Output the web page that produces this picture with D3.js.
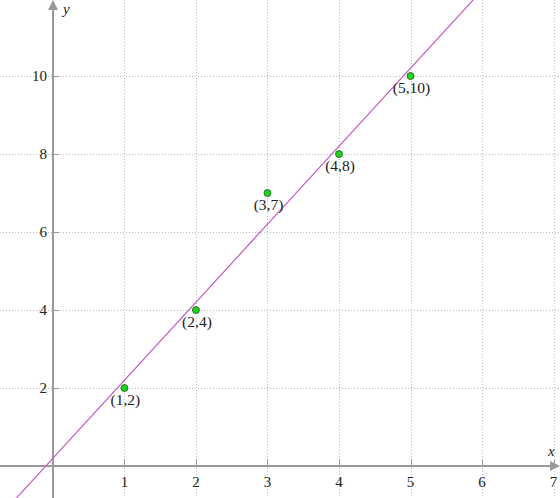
<!DOCTYPE html>
<html>
<head>
<meta charset="utf-8">
<script src="https://cdn.jsdelivr.net/npm/d3@7"></script>
<style>
  body { margin: 0; background: #fff; }
  svg { display: block; }
  text { font-family: "Liberation Serif", "DejaVu Serif", serif; fill: #222; }
</style>
</head>
<body>
<svg id="chart" width="560" height="498"></svg>
<script>
// data
const xs = [1, 2, 3, 4, 5];
const ys = [2, 4, 7, 8, 10];
const xTicks = [1, 2, 3, 4, 5, 6, 7];
const yTicks = [2, 4, 6, 8, 10];

const W = 560, H = 498;
const svg = d3.select("#chart");

const x = d3.scaleLinear().domain([-0.74, 7.09]).range([0, W]);
const y = d3.scaleLinear().domain([-0.82, 11.95]).range([H, 0]);

// least squares fit
const mx = d3.mean(xs), my = d3.mean(ys);
const slope = d3.sum(xs, (d, i) => (d - mx) * (ys[i] - my)) / d3.sum(xs, d => (d - mx) * (d - mx));
const icpt = my - slope * mx;

// grid
const grid = svg.append("g").attr("stroke", "#bbb").attr("stroke-dasharray", "1,2").attr("stroke-width", 1);
grid.selectAll(".gx").data(xTicks).join("line")
  .attr("x1", d => Math.round(x(d)) + 0.5).attr("x2", d => Math.round(x(d)) + 0.5)
  .attr("y1", 0).attr("y2", H);
grid.selectAll(".gy").data(yTicks).join("line")
  .attr("y1", d => Math.round(y(d)) + 0.5).attr("y2", d => Math.round(y(d)) + 0.5)
  .attr("x1", 0).attr("x2", W);

// axes
const ax = svg.append("g").attr("stroke", "#999").attr("stroke-width", 2);
const x0 = Math.round(x(0)), y0 = Math.round(y(0));
ax.append("line").attr("x1", 0).attr("x2", W - 6).attr("y1", y0).attr("y2", y0);
ax.append("line").attr("x1", x0).attr("x2", x0).attr("y1", 6).attr("y2", H);
svg.append("path").attr("fill", "#999")
  .attr("d", `M${W},${y0} L${W - 10},${y0 - 5} L${W - 10},${y0 + 5} Z`);
svg.append("path").attr("fill", "#999")
  .attr("d", `M${x0},0 L${x0 - 5},10 L${x0 + 5},10 Z`);

// ticks
const tk = svg.append("g").attr("stroke", "#999").attr("stroke-width", 1);
tk.selectAll(".tx").data(xTicks).join("line")
  .attr("x1", d => Math.round(x(d)) + 0.5).attr("x2", d => Math.round(x(d)) + 0.5)
  .attr("y1", y0 - 6).attr("y2", y0);
tk.selectAll(".ty").data(yTicks).join("line")
  .attr("y1", d => Math.round(y(d)) + 0.5).attr("y2", d => Math.round(y(d)) + 0.5)
  .attr("x1", x0).attr("x2", x0 + 6);

svg.selectAll(".lx").data(xTicks).join("text")
  .attr("x", d => x(d)).attr("y", y0 + 21)
  .attr("text-anchor", "middle").attr("font-size", 15)
  .text(d => d);
svg.selectAll(".ly").data(yTicks).join("text")
  .attr("x", x0 - 6).attr("y", d => y(d)).attr("dy", "0.35em")
  .attr("text-anchor", "end").attr("font-size", 15)
  .text(d => d);

svg.append("text").attr("x", x0 + 10).attr("y", 14)
  .attr("font-style", "italic").attr("font-size", 15).text("y");
svg.append("text").attr("x", W - 12).attr("y", y0 - 10)
  .attr("font-style", "italic").attr("font-size", 15).text("x");

// fit line
const [d0, d1] = x.domain();
svg.append("line")
  .attr("x1", x(d0)).attr("y1", y(slope * d0 + icpt))
  .attr("x2", x(d1)).attr("y2", y(slope * d1 + icpt))
  .attr("stroke", "#c45cc4").attr("stroke-width", 1.2);

// points
const pts = xs.map((d, i) => ({ x: d, y: ys[i] }));
svg.selectAll(".pt").data(pts).join("circle")
  .attr("cx", d => x(d.x)).attr("cy", d => y(d.y)).attr("r", 3.5)
  .attr("fill", "#1fd41f").attr("stroke", "#1a5a1a").attr("stroke-width", 0.8);
svg.selectAll(".pl").data(pts).join("text")
  .attr("x", d => x(d.x) + 1).attr("y", d => y(d.y) + 17)
  .attr("text-anchor", "middle").attr("font-size", 15.5)
  .text(d => `(${d.x},${d.y})`);
</script>
</body>
</html>
